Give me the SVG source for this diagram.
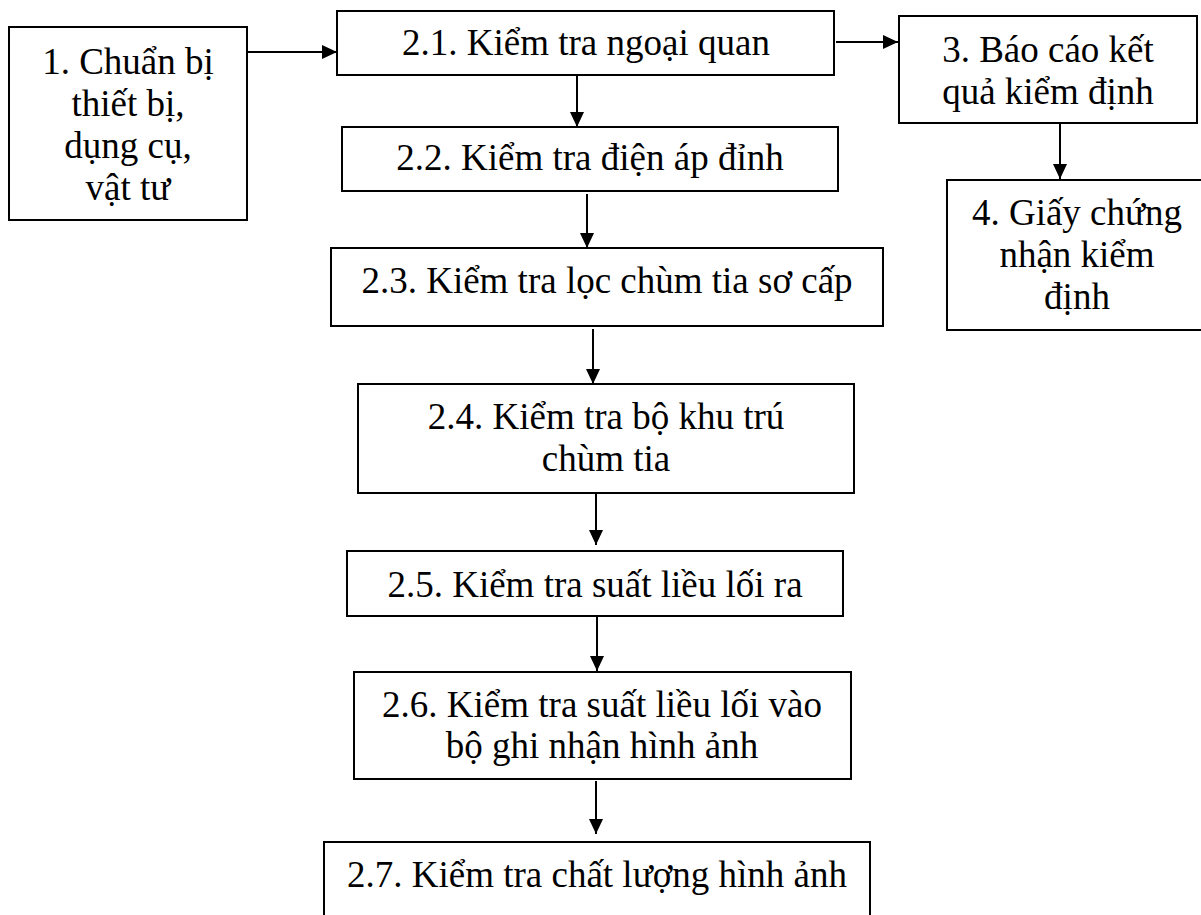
<svg xmlns="http://www.w3.org/2000/svg" width="1201" height="915" viewBox="0 0 1201 915">
  <style>
    .box { fill: #ffffff; stroke: #000000; stroke-width: 2; }
    .lbl { font-family: "Liberation Serif", "Times New Roman", serif; font-size: 37px; fill: #000000; text-anchor: middle; }
    .link { stroke: #000000; stroke-width: 2; fill: none; marker-end: url(#head); }
  </style>
  <defs>
    <marker id="head" markerUnits="userSpaceOnUse" markerWidth="16" markerHeight="16" viewBox="0 0 16 16" refX="15" refY="8" orient="auto">
      <path d="M0,1 L15,8 L0,15 Z" fill="#000000"/>
    </marker>
  </defs>
  <rect width="1201" height="915" fill="#ffffff"/>

  <g id="connectors">
    <line class="link" x1="247" y1="52" x2="337" y2="52"/>
    <line class="link" x1="836" y1="42" x2="898" y2="42"/>
    <line class="link" x1="577" y1="75" x2="577" y2="127"/>
    <line class="link" x1="1060" y1="124" x2="1060" y2="179"/>
    <line class="link" x1="587" y1="194" x2="587" y2="248"/>
    <line class="link" x1="593" y1="329" x2="593" y2="384"/>
    <line class="link" x1="596" y1="493" x2="596" y2="545"/>
    <line class="link" x1="597" y1="616" x2="597" y2="671"/>
    <line class="link" x1="596" y1="781" x2="596" y2="834"/>
  </g>

  <g id="step-1">
    <rect class="box" x="9" y="27" width="238" height="193"/>
    <text class="lbl" x="128" y="74">1. Chuẩn bị</text>
    <text class="lbl" x="128" y="116">thiết bị,</text>
    <text class="lbl" x="128" y="158">dụng cụ,</text>
    <text class="lbl" x="128" y="200">vật tư</text>
  </g>

  <g id="step-2-1">
    <rect class="box" x="337" y="11" width="497" height="64"/>
    <text class="lbl" x="586" y="55">2.1. Kiểm tra ngoại quan</text>
  </g>

  <g id="step-2-2">
    <rect class="box" x="342" y="127" width="496" height="64"/>
    <text class="lbl" x="590" y="170">2.2. Kiểm tra điện áp đỉnh</text>
  </g>

  <g id="step-2-3">
    <rect class="box" x="331" y="248" width="552" height="78"/>
    <text class="lbl" x="607" y="293">2.3. Kiểm tra lọc chùm tia sơ cấp</text>
  </g>

  <g id="step-2-4">
    <rect class="box" x="358" y="384" width="496" height="109"/>
    <text class="lbl" x="606" y="429">2.4. Kiểm tra bộ khu trú</text>
    <text class="lbl" x="606" y="471">chùm tia</text>
  </g>

  <g id="step-2-5">
    <rect class="box" x="347" y="551" width="496" height="65"/>
    <text class="lbl" x="595" y="597">2.5. Kiểm tra suất liều lối ra</text>
  </g>

  <g id="step-2-6">
    <rect class="box" x="354" y="672" width="497" height="107"/>
    <text class="lbl" x="602" y="717">2.6. Kiểm tra suất liều lối vào</text>
    <text class="lbl" x="602" y="758">bộ ghi nhận hình ảnh</text>
  </g>

  <g id="step-2-7">
    <rect class="box" x="324" y="842" width="546" height="90"/>
    <text class="lbl" x="597" y="887">2.7. Kiểm tra chất lượng hình ảnh</text>
  </g>

  <g id="step-3">
    <rect class="box" x="899" y="16" width="298" height="107"/>
    <text class="lbl" x="1048" y="62">3. Báo cáo kết</text>
    <text class="lbl" x="1048" y="104">quả kiểm định</text>
  </g>

  <g id="step-4">
    <rect class="box" x="947" y="180" width="260" height="150"/>
    <text class="lbl" x="1077" y="225">4. Giấy chứng</text>
    <text class="lbl" x="1077" y="267">nhận kiểm</text>
    <text class="lbl" x="1077" y="309">định</text>
  </g>
</svg>
